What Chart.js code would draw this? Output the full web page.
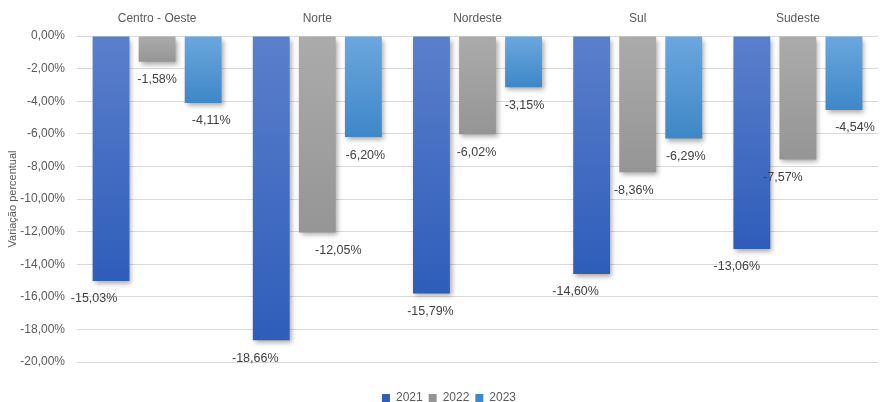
<!DOCTYPE html>
<html>
<head>
<meta charset="utf-8">
<script src="https://cdn.jsdelivr.net/npm/chart.js@4.4.0/dist/chart.umd.min.js"></script>
<style>
  html, body { margin: 0; padding: 0; background: #ffffff; }
  #wrap { width: 882px; height: 402px; }
</style>
</head>
<body>
<div id="wrap"><canvas id="chart" width="882" height="402"></canvas></div>
<script>
// Regions and yearly percentage change
const regions = ['Centro - Oeste', 'Norte', 'Nordeste', 'Sul', 'Sudeste'];
const years = ['2021', '2022', '2023'];
const var2021 = [-15.03, -18.66, -15.79, -14.60, -13.06];
const var2022 = [-1.58, -12.05, -6.02, -8.36, -7.57];
const var2023 = [-4.11, -6.20, -3.15, -6.29, -4.54];
const yTickValues = [0, -2, -4, -6, -8, -10, -12, -14, -16, -18, -20];

// Horizontal nudges for value labels (px), per year then per region
const labelNudge = [
  [-17, -16, -1, -16, -15],
  [0, 21, -1, -4, -15],
  [8, 2, 1, 2, 11]
];

const fmt = v => v.toFixed(2).replace('.', ',') + '%';

function barFill(topColor, bottomColor, solid) {
  return (ctx) => {
    const chart = ctx.chart;
    if (ctx.type !== 'data' || !chart.chartArea) return solid;
    const ys = chart.scales.y;
    const y0 = ys.getPixelForValue(0);
    const y1 = ys.getPixelForValue(ctx.raw);
    if (!isFinite(y0) || !isFinite(y1) || y0 === y1) return solid;
    const g = chart.ctx.createLinearGradient(0, y0, 0, y1);
    g.addColorStop(0, topColor);
    g.addColorStop(1, bottomColor);
    return g;
  };
}

const barShadow = {
  id: 'barShadow',
  beforeDatasetsDraw(chart) {
    const c = chart.ctx;
    c.save();
    c.shadowColor = 'rgba(0,0,0,0.35)';
    c.shadowBlur = 5;
    c.shadowOffsetX = 2;
    c.shadowOffsetY = 3;
  },
  afterDatasetsDraw(chart) {
    chart.ctx.restore();
  }
};

const valueLabels = {
  id: 'valueLabels',
  afterDatasetsDraw(chart) {
    const c = chart.ctx;
    c.save();
    c.font = '12.5px "Liberation Sans", Arial, sans-serif';
    c.fillStyle = '#404040';
    c.textAlign = 'center';
    c.textBaseline = 'middle';
    chart.data.datasets.forEach((ds, di) => {
      const meta = chart.getDatasetMeta(di);
      meta.data.forEach((bar, i) => {
        const dx = (labelNudge[di] && labelNudge[di][i]) || 0;
        c.fillText(fmt(ds.data[i]), bar.x + dx, bar.y + 18);
      });
    });
    c.restore();
  }
};

// Nudge the legend block slightly right of the canvas centre
const legendShift = {
  id: 'legendShift',
  afterLayout(chart) {
    const lg = chart.legend;
    if (lg) { lg.left += 10; lg.right += 10; }
  }
};

const tickFont = { family: '"Liberation Sans", Arial, sans-serif', size: 12 };

new Chart(document.getElementById('chart'), {
  type: 'bar',
  data: {
    labels: regions,
    datasets: [
      { label: years[0], data: var2021, backgroundColor: barFill('#5b7fcb', '#2e5dba', '#3a66c2') },
      { label: years[1], data: var2022, backgroundColor: barFill('#ababab', '#959595', '#a5a5a5') },
      { label: years[2], data: var2023, backgroundColor: barFill('#6ba7de', '#3e87c8', '#5b9bd5') }
    ]
  },
  options: {
    responsive: false,
    devicePixelRatio: 1,
    animation: false,
    layout: { padding: { left: 0, right: 4, top: 0, bottom: 0 } },
    datasets: {
      bar: { categoryPercentage: 0.8625, barPercentage: 0.8, borderWidth: 0 }
    },
    scales: {
      x: {
        position: 'top',
        grid: { display: false, drawTicks: false },
        border: { display: false },
        ticks: { color: '#595959', font: tickFont, padding: 10, maxRotation: 0 },
        afterFit: s => { s.height = 36; }
      },
      y: {
        min: -20,
        max: 0,
        afterBuildTicks: s => { s.ticks = yTickValues.map(v => ({ value: v })); },
        grid: { color: '#d9d9d9', lineWidth: 1, drawTicks: false },
        border: { display: false },
        ticks: { color: '#595959', font: tickFont, padding: 12, callback: v => fmt(v) },
        title: {
          display: true,
          text: 'Variação percentual',
          color: '#595959',
          font: { family: '"Liberation Sans", Arial, sans-serif', size: 11 },
          padding: { top: 6, bottom: 0 }
        },
        afterFit: s => { s.width = 77; }
      }
    },
    plugins: {
      legend: {
        position: 'bottom',
        maxHeight: 40,
        title: { display: true, text: '', font: { size: 10 }, padding: 6 },
        labels: {
          boxWidth: 8,
          boxHeight: 8,
          padding: 6,
          color: '#595959',
          font: tickFont
        }
      },
      tooltip: { enabled: false }
    }
  },
  plugins: [barShadow, valueLabels, legendShift]
});
</script>
</body>
</html>
